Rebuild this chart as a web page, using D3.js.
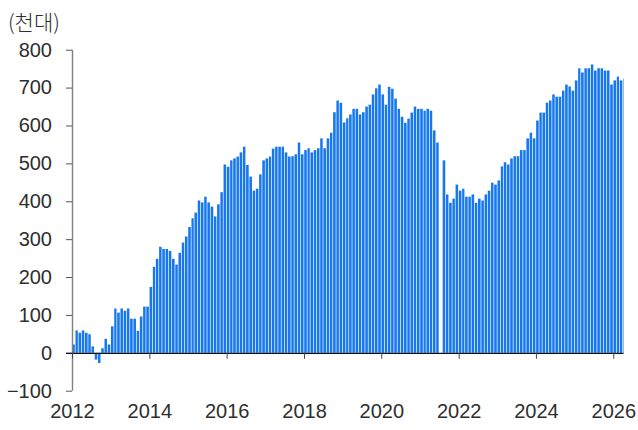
<!DOCTYPE html>
<html>
<head>
<meta charset="utf-8">
<script src="https://cdn.jsdelivr.net/npm/d3@7"></script>
<style>
  body { margin: 0; background: #fff; }
  svg { display: block; font-family: "Noto Sans CJK KR", "Noto Sans", sans-serif; }
</style>
</head>
<body>
<div id="chart"></div>
<script>
// monthly values, Jan 2012 - Apr 2026 (천대)
const startMonth = new Date(2012, 0, 1);
const values = [
  22, 59, 53, 59, 53, 49, 17, -18, -27, 12, 37, 22,
  70, 117, 106, 117, 111, 117, 90, 90, 58, 96, 122, 122,
  174, 227, 248, 280, 274, 274, 269, 248, 233, 264, 291, 307,
  332, 355, 370, 402, 397, 412, 397, 386, 360, 392, 424, 497,
  491, 508, 513, 518, 529, 544, 496, 465, 428, 433, 471, 508,
  513, 518, 539, 544, 544, 544, 529, 518, 519, 524, 555, 524,
  535, 540, 529, 535, 540, 566, 540, 566, 581, 635, 666, 660,
  608, 619, 629, 644, 644, 629, 635, 650, 655, 682, 698, 708,
  682, 655, 702, 697, 671, 644, 623, 607, 618, 634, 650, 644,
  644, 639, 644, 639, 587, 555, null, 508, 418, 396, 407, 444,
  428, 433, 412, 412, 418, 396, 407, 402, 418, 428, 449, 444,
  455, 492, 503, 497, 513, 519, 519, 535, 535, 566, 581, 566,
  613, 634, 634, 660, 666, 682, 676, 676, 692, 708, 703, 692,
  719, 751, 740, 751, 751, 761, 745, 751, 751, 745, 745, 708,
  719, 729, 719, 724
];
const yTicks = [-100, 0, 100, 200, 300, 400, 500, 600, 700, 800];
const xTickYears = [2012, 2014, 2016, 2018, 2020, 2022, 2024, 2026];
const unitLabel = "(천대)";

const width = 638;
const height = 430;
const barColor = "#1677ee";
const textColor = "#2e2e2e";

const months = values.map((v, i) => d3.timeMonth.offset(startMonth, i));
const data = months.map((m, i) => ({ month: m, value: values[i] }));

const x = d3.scaleTime()
  .domain([new Date(2012, 0, 1), new Date(2026, 0, 1)])
  .range([72, 613.3]);
const plotRight = 623.5;

const y = d3.scaleLinear()
  .domain([-100, 800])
  .range([390.7, 49.7]);

const svg = d3.select("#chart").append("svg")
  .attr("width", width)
  .attr("height", height)
  .attr("viewBox", [0, 0, width, height]);

svg.append("defs").append("clipPath")
  .attr("id", "plot-clip")
  .append("rect")
    .attr("x", 72)
    .attr("y", 0)
    .attr("width", plotRight - 72)
    .attr("height", height);

// bars
svg.append("g")
  .attr("fill", barColor)
  .attr("clip-path", "url(#plot-clip)")
  .selectAll()
  .data(data.filter(d => d.value != null))
  .join("rect")
    .attr("x", d => x(d.month) + 0.2)
    .attr("width", d => x(d3.timeMonth.offset(d.month, 1)) - x(d.month) - 0.7)
    .attr("y", d => y(Math.max(0, d.value)))
    .attr("height", d => Math.abs(y(d.value) - y(0)));

// y axis
const yAxis = svg.append("g")
  .attr("transform", "translate(72,0)")
  .call(d3.axisLeft(y).tickValues(yTicks).tickSize(6).tickPadding(14)
    .tickFormat(d => d < 0 ? "\u2212" + Math.abs(d) : d));
yAxis.select(".domain")
  .attr("stroke", "#808080")
  .attr("stroke-width", 1.4)
  .attr("d", `M0.5,${y(-100)}V${y(800)}`);
yAxis.selectAll(".tick line").attr("stroke", "#555");
yAxis.selectAll(".tick text")
  .attr("fill", textColor)
  .attr("font-size", 20)
  .attr("font-weight", 300);

// x axis at zero
const xAxis = svg.append("g")
  .attr("transform", `translate(0,${y(0)})`)
  .call(d3.axisBottom(x)
    .tickValues(xTickYears.map(yr => new Date(yr, 0, 1)))
    .tickSize(6)
    .tickSizeOuter(0)
    .tickFormat(d3.timeFormat("%Y")));
xAxis.select(".domain")
  .attr("stroke", "#111")
  .attr("stroke-width", 1.2)
  .attr("d", `M66,0.5H${plotRight}`);
xAxis.selectAll(".tick line").attr("stroke", "#444");
xAxis.selectAll(".tick text")
  .attr("fill", textColor)
  .attr("font-size", 20)
  .attr("font-weight", 300)
  .attr("y", y(-100) - y(0) + 13)
  .attr("dy", "0.71em");

// unit label
svg.append("text")
  .attr("x", 8)
  .attr("y", 30)
  .attr("fill", textColor)
  .attr("font-size", 21)
  .attr("font-weight", 300)
  .text(unitLabel);
</script>
</body>
</html>
